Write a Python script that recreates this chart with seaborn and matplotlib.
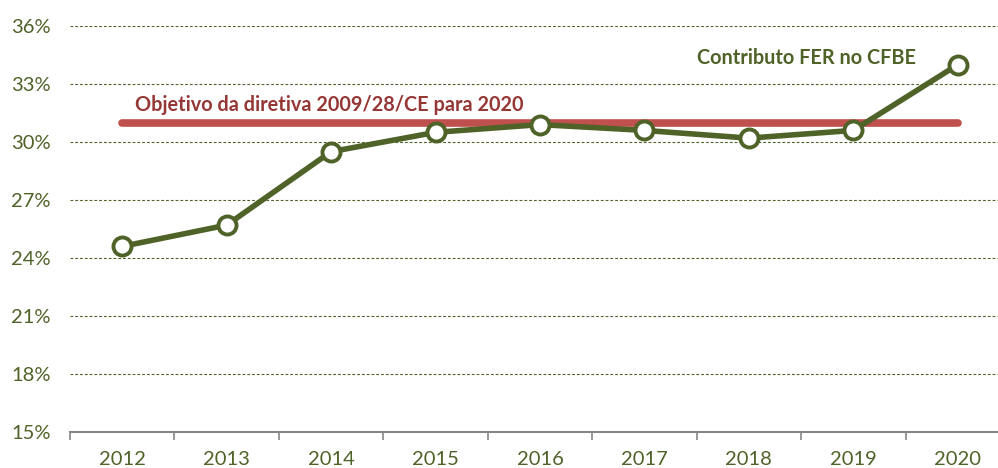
import seaborn as sns
import pandas as pd
import matplotlib.pyplot as plt
from matplotlib.ticker import FixedLocator, FuncFormatter

years = ['2012', '2013', '2014', '2015', '2016', '2017', '2018', '2019', '2020']
share = [24.6, 25.7, 29.5, 30.5, 30.9, 30.6, 30.2, 30.6, 34.0]
target = 31.0
yticks = [15, 18, 21, 24, 27, 30, 33, 36]

green = '#4F6228'
red = '#C0504D'

sns.set_style("white")
plt.rcParams['font.family'] = ['Lato', 'DejaVu Sans']

df = pd.DataFrame({'Ano': years, 'Contributo': share})

fig = plt.figure(figsize=(9.98, 4.68), dpi=100)
ax = fig.add_axes([70 / 998, 1 - 432 / 468, 940 / 998, 406 / 468])

for y in yticks[1:]:
    ax.axhline(y, color=green, lw=0.8, ls=(0, (2.5, 1.8)), zorder=0)

ax.plot([0, len(years) - 1], [target, target], color=red, lw=5.5,
        solid_capstyle='round', zorder=2)

sns.lineplot(data=df, x='Ano', y='Contributo', ax=ax, sort=False, color=green,
             lw=4, marker='o', markersize=13, markerfacecolor='white',
             markeredgecolor=green, markeredgewidth=2.8, zorder=3)

ax.text(0.12, 31.9, 'Objetivo da diretiva 2009/28/CE para 2020', color='#953735',
        fontsize=14.3, fontweight='bold', va='center', ha='left')
ax.text(6.55, 34.35, 'Contributo FER no CFBE', color=green,
        fontsize=14.3, fontweight='bold', va='center', ha='center')

ax.set_xlim(-0.5, len(years) - 0.5)
ax.set_ylim(15, 36)
ax.set_yticks(yticks)
ax.yaxis.set_major_formatter(FuncFormatter(lambda v, p: f'{v:.0f}%'))
ax.xaxis.set_major_locator(FixedLocator([i - 0.5 for i in range(len(years) + 1)]))
ax.xaxis.set_major_formatter(FuncFormatter(lambda v, p: ''))
ax.xaxis.set_minor_locator(FixedLocator(list(range(len(years)))))
ax.set_xticklabels(years, minor=True)

ax.tick_params(axis='x', which='major', length=6, width=1.2, color='#868686', direction='out', bottom=True)
ax.tick_params(axis='x', which='minor', length=0, pad=14, labelsize=14.5, labelcolor=green)
ax.tick_params(axis='y', length=0, pad=14, labelsize=14.5, labelcolor=green)

for s in ['top', 'right', 'left']:
    ax.spines[s].set_visible(False)
ax.spines['bottom'].set_color('#868686')
ax.spines['bottom'].set_linewidth(1.5)
ax.set_xlabel('')
ax.set_ylabel('')

fig.savefig('out.png', dpi=100)
